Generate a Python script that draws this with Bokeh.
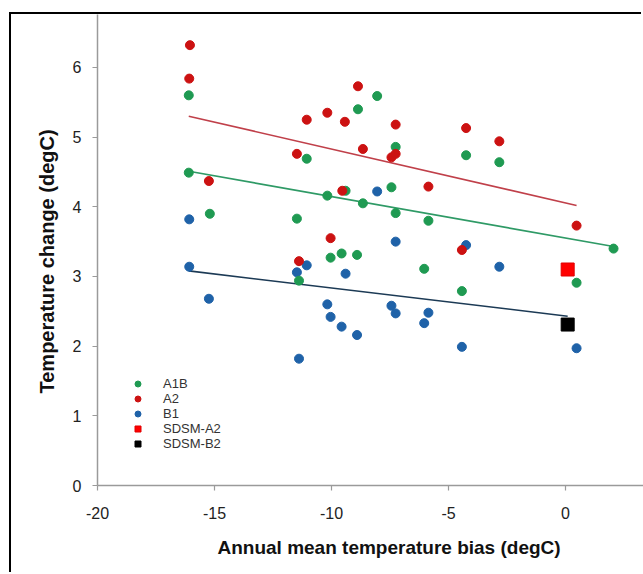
from bokeh.plotting import figure
from bokeh.models import Range1d, Legend, LegendItem, Title
from bokeh.embed import file_html
from bokeh.resources import INLINE

# ---- data ----
a1b_x = [-16.1, -16.1, -15.2, -11.48, -11.06, -10.18, -10.04, -9.57, -9.40, -8.91, -8.87, -8.66,
         -8.05, -7.44, -7.26, -7.26, -6.04, -5.86, -4.43, -4.25, -2.83, 0.47, 2.05, -11.39]
a1b_y = [5.60, 4.49, 3.90, 3.83, 4.69, 4.16, 3.27, 3.33, 4.23, 3.31, 5.40, 4.05,
         5.59, 4.28, 4.86, 3.91, 3.11, 3.80, 2.79, 4.74, 4.64, 2.91, 3.40, 2.94]

a2_x = [-16.05, -16.08, -15.24, -11.48, -11.39, -11.06, -10.18, -10.04, -9.54, -9.43,
        -8.87, -8.66, -7.44, -7.26, -7.26, -5.86, -4.43, -4.25, -2.83, 0.47]
a2_y = [6.32, 5.84, 4.37, 4.76, 3.22, 5.25, 5.35, 3.55, 4.23, 5.22,
        5.73, 4.83, 4.71, 4.76, 5.18, 4.29, 3.38, 5.13, 4.94, 3.73]

b1_x = [-16.08, -16.08, -15.24, -11.48, -11.39, -11.06, -10.18, -10.04, -9.57, -9.40, -8.91,
        -8.05, -7.44, -7.26, -7.26, -6.04, -5.86, -4.43, -4.25, -2.83, 0.47]
b1_y = [3.82, 3.14, 2.68, 3.06, 1.82, 3.16, 2.60, 2.42, 2.28, 3.04, 2.16,
        4.22, 2.58, 2.47, 3.50, 2.33, 2.48, 1.99, 3.45, 3.14, 1.97]

sdsm_a2_x = [0.09]
sdsm_a2_y = [3.10]
sdsm_b2_x = [0.09]
sdsm_b2_y = [2.31]

a2_trend_x = [-16.1, 0.47]
a2_trend_y = [5.30, 4.02]
a1b_trend_x = [-16.1, 2.05]
a1b_trend_y = [4.51, 3.43]
b1_trend_x = [-16.1, 0.09]
b1_trend_y = [3.08, 2.43]

x_ticks = [-20, -15, -10, -5, 0]
x_tick_labels = ["-20", "-15", "-10", "-5", "0"]
y_ticks = [0, 1, 2, 3, 4, 5, 6]

FONT = "Liberation Sans"

p = figure(width=632, height=560, output_backend="svg", toolbar_location=None,
           x_range=Range1d(-20, 3.33), y_range=Range1d(0, 6.76),
           min_border_left=86, min_border_right=0, min_border_top=0, min_border_bottom=89)
p.styles = {"margin-left": "11px", "margin-top": "14px",
            "box-shadow": "-2px -2px 0px 0px #000000"}
p.outline_line_color = None
p.grid.visible = False
p.background_fill_color = "white"
p.border_fill_color = "white"

for ax in (p.xaxis, p.yaxis):
    ax.axis_line_color = "#9a9a9a"
    ax.axis_line_width = 1.5
    ax.major_tick_line_color = "#9a9a9a"
    ax.major_tick_line_width = 1.2
    ax.major_tick_in = 0
    ax.major_tick_out = 5
    ax.minor_tick_line_color = None
    ax.major_label_text_font = FONT
    ax.major_label_text_font_size = "16px"
    ax.major_label_text_color = "#222222"
p.xaxis.ticker = x_ticks
p.xaxis.major_label_overrides = dict(zip(x_ticks, x_tick_labels))
p.yaxis.ticker = y_ticks
p.xaxis.major_label_standoff = 16
p.yaxis.major_label_standoff = 11

# trend lines
p.line(a2_trend_x, a2_trend_y, line_color="#c0404a", line_width=1.6)
p.line(a1b_trend_x, a1b_trend_y, line_color="#2f9a66", line_width=1.6)
p.line(b1_trend_x, b1_trend_y, line_color="#1c3a55", line_width=1.6)

r_b1 = p.scatter(b1_x, b1_y, size=9, marker="circle", fill_color="#1f62a8", line_color="#1f62a8")
r_a1b = p.scatter(a1b_x, a1b_y, size=9, marker="circle", fill_color="#1f9a52", line_color="#1f9a52")
r_a2 = p.scatter(a2_x, a2_y, size=9, marker="circle", fill_color="#cc1212", line_color="#cc1212")
r_sa2 = p.scatter(sdsm_a2_x, sdsm_a2_y, size=13, marker="square", fill_color="#ff0000", line_color="#e00000")
r_sb2 = p.scatter(sdsm_b2_x, sdsm_b2_y, size=13, marker="square", fill_color="#000000", line_color="#000000")

legend = Legend(items=[
    LegendItem(label="A1B", renderers=[r_a1b]),
    LegendItem(label="A2", renderers=[r_a2]),
    LegendItem(label="B1", renderers=[r_b1]),
    LegendItem(label="SDSM-A2", renderers=[r_sa2]),
    LegendItem(label="SDSM-B2", renderers=[r_sb2]),
], location=(33, 34))
legend.border_line_color = None
legend.background_fill_alpha = 0
legend.padding = 0
legend.margin = 0
legend.spacing = 0
legend.glyph_width = 15
legend.glyph_height = 15
legend.label_height = 15
legend.label_standoff = 18
legend.label_text_font = FONT
legend.label_text_font_size = "13px"
legend.label_text_color = "#333333"
legend.label_text_line_height = 1.0
p.add_layout(legend, "center")

# axis titles (offset along the axis as in the reference)
p.add_layout(Title(text="Annual mean temperature bias (degC)", align="left", offset=120,
                   standoff=27, text_font=FONT, text_font_style="bold",
                   text_font_size="19px", text_color="#111111"), "below")
p.add_layout(Title(text="Temperature change (degC)", align="left", offset=92,
                   standoff=23, text_font=FONT, text_font_style="bold",
                   text_font_size="20px", text_color="#111111"), "left")

open("out.html", "w").write(file_html(p, INLINE))
